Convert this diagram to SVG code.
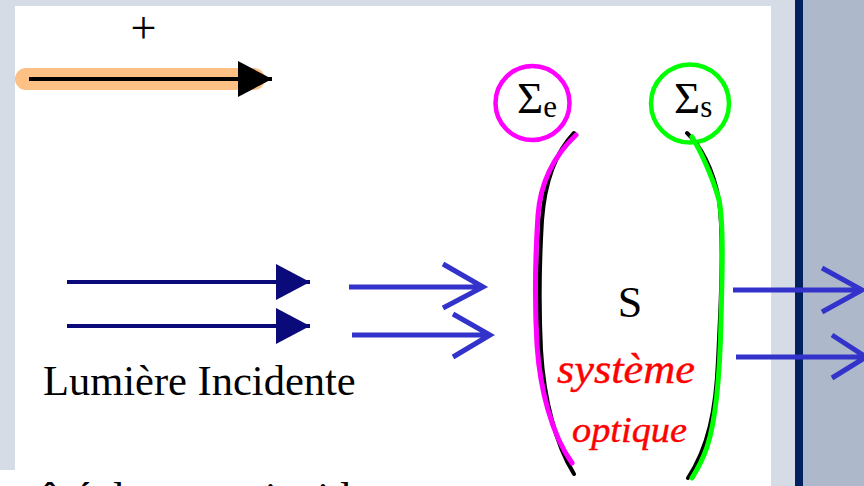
<svg xmlns="http://www.w3.org/2000/svg" width="864" height="486" viewBox="0 0 864 486">
  <style>
    .serif { font-family: "Liberation Serif", "Times New Roman", "DejaVu Serif", serif; fill: #000; }
    .hand { font-family: "Liberation Serif", serif; font-style: italic; fill: #ff0000; stroke: #ff0000; stroke-width: 0.4; }
    .beam-in { stroke: #0a0a7a; stroke-width: 4; fill: none; }
    .beam-out { stroke: #3333cc; stroke-width: 5; fill: none; stroke-linejoin: miter; }
    .paren { stroke: #000; stroke-width: 4; fill: none; stroke-linecap: round; }
    .trace { fill: none; stroke-width: 5; stroke-linecap: round; }
  </style>
  <defs>
    <marker id="headNavy" markerUnits="userSpaceOnUse" markerWidth="36" markerHeight="36" refX="34" refY="18" orient="auto">
      <path d="M0,0 L34,18 L0,36 Z" fill="#0a0a7a"/>
    </marker>
    <marker id="headBlack" markerUnits="userSpaceOnUse" markerWidth="36" markerHeight="36" refX="34" refY="18" orient="auto">
      <path d="M0,0 L34,18 L0,36 Z" fill="#000"/>
    </marker>
  </defs>

  <!-- slide background -->
  <rect x="0" y="0" width="864" height="486" fill="#d6dce5"/>
  <rect x="15" y="6" width="756" height="480" fill="#ffffff"/>
  <rect x="0" y="470" width="15" height="16" fill="#ffffff"/>
  <rect x="803" y="0" width="61" height="486" fill="#adb9ca"/>
  <rect x="795" y="0" width="8" height="486" fill="#002060"/>

  <!-- sign convention arrow -->
  <g id="convention">
    <line x1="26" y1="79" x2="254" y2="79" stroke="#fdc085" stroke-width="22" stroke-linecap="round"/>
    <line x1="29" y1="79" x2="272" y2="79" stroke="#000" stroke-width="4" marker-end="url(#headBlack)"/>
    <text class="serif" x="143.5" y="43" font-size="46" text-anchor="middle">+</text>
  </g>

  <!-- entrance surface label -->
  <g id="sigma-e">
    <circle cx="532.5" cy="103" r="37" fill="none" stroke="#ff00ff" stroke-width="4.5"/>
    <text class="serif" x="517" y="113" font-size="45">Σ<tspan font-size="31" dy="4">e</tspan></text>
  </g>

  <!-- exit surface label -->
  <g id="sigma-s">
    <circle cx="690" cy="103.5" r="39" fill="none" stroke="#00ff00" stroke-width="4.5"/>
    <text class="serif" x="674" y="113" font-size="45">Σ<tspan font-size="31" dy="4">s</tspan></text>
  </g>

  <!-- optical system S between its two surfaces -->
  <g id="system">
    <path class="paren" d="M574,133 C556,152 545,180 542,220 C539,270 539,310 541,350 C544,400 556,445 574,474"/>
    <path class="paren" d="M687,133 C700,145 713,168 719,200 C724,240 721,300 718,360 C716,410 708,448 688,478"/>
    <path class="trace" stroke="#ff00ff" d="M576,135 C560,150 541,175 538,215 C535,260 535,310 537,345 C540,390 552,435 572,463"/>
    <path class="trace" stroke="#00ff00" d="M692,137 C700,150 712,175 719,200 C724,225 722,280 721,320 C720,370 716,420 707,447 C702,462 697,470 692,478"/>
    <text class="serif" x="630" y="317" font-size="44" text-anchor="middle">S</text>
    <text class="hand" x="557" y="383" font-size="42" textLength="138" lengthAdjust="spacingAndGlyphs">système</text>
    <text class="hand" x="572" y="442" font-size="36" textLength="115" lengthAdjust="spacingAndGlyphs">optique</text>
  </g>

  <!-- incident light -->
  <g id="incident">
    <text class="serif" x="43" y="395" font-size="42.5">Lumière Incidente</text>
    <text class="serif" x="20" y="512" font-size="43">côté du rayon incident</text>
  </g>

  <g id="connectors">
    <line class="beam-in" x1="67" y1="282" x2="310" y2="282" marker-end="url(#headNavy)"/>
    <line class="beam-in" x1="67" y1="326" x2="310" y2="326" marker-end="url(#headNavy)"/>

    <path class="beam-out" d="M349,287 H481 M443,264 L483,287 L443,308"/>
    <path class="beam-out" d="M352,335 H488 M453,314 L490,335 L453,357"/>

    <path class="beam-out" d="M733,290 H860 M822,268 L862,290 L822,312"/>
    <path class="beam-out" d="M736,357 H862 M832,335 L866,357 L832,378"/>
  </g>
</svg>
